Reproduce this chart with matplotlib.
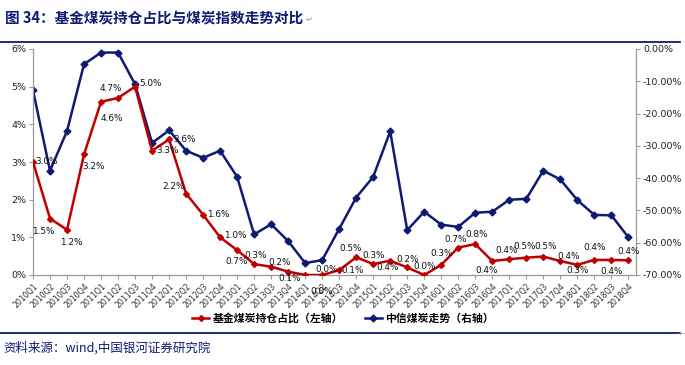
import matplotlib
matplotlib.use("Agg")
import matplotlib.pyplot as plt
from matplotlib.lines import Line2D
import numpy as np

# ---------------- data ----------------
quarters = [f"{y}Q{q}" for y in range(2010, 2019) for q in range(1, 5)]
fund_share = [3.0, 1.5, 1.2, 3.2, 4.6, 4.7, 5.0, 3.3, 3.6, 2.16, 1.6, 1.0,
              0.66, 0.29, 0.22, 0.09, 0.0, 0.0, 0.13, 0.47, 0.29, 0.38, 0.2, 0.0,
              0.27, 0.73, 0.82, 0.37, 0.42, 0.46, 0.49, 0.37, 0.27, 0.4, 0.4, 0.39]
coal_index = [-12.8, -37.7, -25.4, -4.7, -1.1, -1.1, -10.9, -29.1, -25.2, -31.5, -33.7, -31.5,
              -39.6, -57.4, -54.3, -59.5, -66.3, -65.4, -55.7, -46.0, -39.6, -25.5, -56.1, -50.4,
              -54.4, -55.1, -50.7, -50.4, -46.7, -46.4, -37.7, -40.4, -46.8, -51.4, -51.5, -58.3]
left_ticks = [0, 1, 2, 3, 4, 5, 6]
right_ticks = [0, -10, -20, -30, -40, -50, -60, -70]
title = "图 34：基金煤炭持仓占比与煤炭指数走势对比"
legend_names = ["基金煤炭持仓占比（左轴）", "中信煤炭走势（右轴）"]
source = "资料来源：wind,中国银河证券研究院"

# label offsets (points) for the red data labels
label_off = [(10, 0), (-5, -9), (3, -9), (7, -9), (8, -12), (-5, 7), (11, 2), (11, 0),
             (11, 0), (-9, 5), (11, 0), (11, 1), (0, -8), (1, 6), (6, 3), (1, -5),
             (12, -12), (3, 4), (10, 0), (-4, 6), (0, 6), (-2, -5), (0, 6), (0, 6),
             (0, 8), (-2, 6), (1, 7), (-4, -7), (-2, 6), (-1, 8), (2, 7), (6, 3),
             (0, -4), (0, 9), (0, -8), (0, 6)]

RED = "#C00000"
NAVY = "#0F1A73"
plt.rcParams['font.family'] = ['DejaVu Sans', 'Noto Sans CJK SC']

fig = plt.figure(figsize=(6.85, 3.65), dpi=100)
ax = fig.add_axes([33 / 685, 1 - 275 / 365, (636 - 33) / 685, (275 - 49) / 365])
ax2 = ax.twinx()

x = np.arange(len(quarters))
ax.plot(x, fund_share, color=RED, lw=1.8, marker="D", ms=3, zorder=3)
ax2.plot(x, coal_index, color=NAVY, lw=1.8, marker="D", ms=3.5, zorder=2)
ax.set_zorder(ax2.get_zorder() + 1)
ax.patch.set_visible(False)

for i, v in enumerate(fund_share):
    dx, dy = label_off[i]
    ax.annotate(f"{v:.1f}%", (x[i], v), xytext=(dx, dy), textcoords="offset points",
                ha="center", va="center", fontsize=6.4, color="#111111", zorder=5,
                annotation_clip=False)

ax.set_xlim(0, len(quarters) - 1 + 0.45)
ax.set_ylim(0, 6)
ax2.set_ylim(-70, 0)
ax.set_yticks(left_ticks)
ax.set_yticklabels([f"{t}%" for t in left_ticks], fontsize=6.8, color="#222222")
ax2.set_yticks(right_ticks)
ax2.set_yticklabels([f"{t:.2f}%" if t == 0 else f"-{abs(t):.2f}%" for t in right_ticks],
                    fontsize=6.8, color="#222222")
ax.set_xticks(x)
ax.set_xticklabels(quarters, rotation=45, ha="right", rotation_mode="anchor",
                   fontsize=5.6, color="#333333")

for a in (ax, ax2):
    a.spines["top"].set_visible(False)
    for s in ("left", "right", "bottom"):
        a.spines[s].set_color("#999999")
        a.spines[s].set_linewidth(0.9)
    a.tick_params(length=3, width=0.8, color="#999999", pad=2)
ax.spines["right"].set_visible(False)
ax2.spines["left"].set_visible(False)
ax2.spines["bottom"].set_visible(False)

# title and rules
fig.text(5 / 685, 1 - 17 / 365, title, fontsize=10.5, fontweight="bold", color=NAVY,
         family=['Noto Sans CJK SC', 'DejaVu Sans'], va="center", ha="left")
fig.text(306 / 685, 1 - 19 / 365, "↵", fontsize=6, color="#999999", va="center")
fig.add_artist(Line2D([0, 680 / 685], [1 - 42 / 365] * 2, color=NAVY, lw=1.3))
fig.add_artist(Line2D([0, 680 / 685], [1 - 333 / 365] * 2, color=NAVY, lw=1.3))
fig.text(679 / 685, 1 - 333 / 365, "←", fontsize=6, color="#999999", va="center")

# legend
handles = [Line2D([], [], color=RED, lw=1.8, marker="D", ms=3),
           Line2D([], [], color=NAVY, lw=1.8, marker="D", ms=3.5)]
fig.legend(handles, legend_names, loc="center", bbox_to_anchor=(343 / 685, 1 - 318 / 365),
           ncol=2, frameon=False, handlelength=1.6, handletextpad=0.3, columnspacing=2.0,
           prop={'family': ['Noto Sans CJK SC'], 'weight': 'bold', 'size': 7.8})

fig.text(3 / 685, 1 - 348 / 365, source, fontsize=9, color=NAVY, style="italic",
         family=['Noto Sans CJK SC', 'DejaVu Sans'], va="center", ha="left")

fig.savefig("out.png", dpi=100)
